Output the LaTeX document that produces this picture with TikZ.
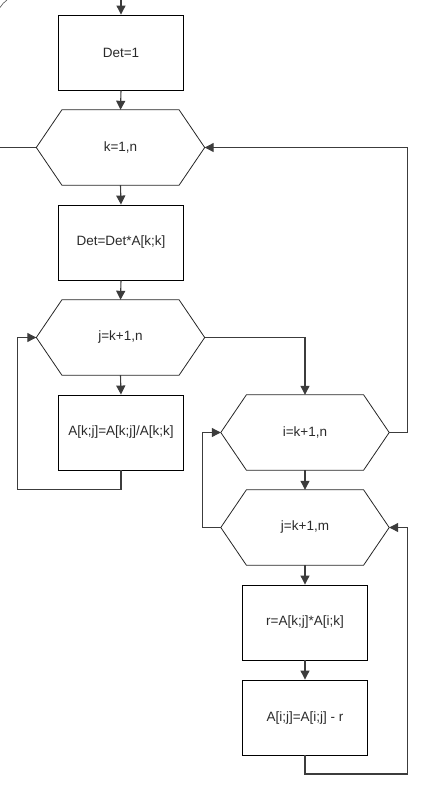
\documentclass[tikz,border=0pt]{standalone}
\usepackage{fontspec}
\setmainfont{Liberation Sans}
\usetikzlibrary{arrows.meta,calc}
\definecolor{linec}{HTML}{3C3C3C}
\definecolor{textc}{HTML}{2A2A2A}
\begin{document}
\begin{tikzpicture}[x=1pt,y=-1pt,
  every node/.style={font=\fontsize{13.5}{16}\selectfont, text=textc},
  procbox/.style={draw=black, line width=0.9pt, minimum width=125pt, minimum height=75pt, inner sep=0pt},
  hexbox/.style={minimum width=168pt, minimum height=75pt, inner sep=0pt},
  hexline/.style={draw=black!85, line width=0.8pt},
  conn/.style={draw=linec, line width=1.1pt},
  arr/.style={conn, -{Triangle[length=9pt,width=9pt]}}]
\useasboundingbox (0,0) rectangle (440,812);

\node[procbox] (det1) at (121,52.5) {Det=1};
\node[hexbox] (k) at (120.5,147.5) {k=1,n};
\node[procbox] (det) at (121,242.5) {Det=Det*A[k;k]};
\node[hexbox] (j) at (120.5,337.5) {j=k+1,n};
\node[procbox] (akj) at (121,432.5) {A[k;j]=A[k;j]/A[k;k]};
\node[hexbox] (i) at (305,432.5) {i=k+1,n};
\node[hexbox] (jm) at (305,527.5) {j=k+1,m};
\node[procbox] (r) at (305,622.5) {r=A[k;j]*A[i;k]};
\node[procbox] (aij) at (305,717.5) {A[i;j]=A[i;j] - r};

\foreach \h in {k,j,i,jm}{
  \draw[hexline] (\h.west) -- ([xshift=25.6pt]\h.north west) -- ([xshift=-25.6pt]\h.north east)
    -- (\h.east) -- ([xshift=-25.6pt]\h.south east) -- ([xshift=25.6pt]\h.south west) -- cycle;
}

\coordinate (top) at (121,0);
\coordinate (leftend) at (0,147.5);

\draw[arr] (top) -- (det1.north);
\draw[arr] (det1.south) -- (k.north);
\draw[conn] (k.west) -- (leftend);
\draw[arr] (k.south) -- (det.north);
\draw[arr] (det.south) -- (j.north);
\draw[arr] (j.south) -- (akj.north);
\draw[arr] (akj.south) -- ++(0,19) -| ([xshift=-18.4pt]j.west) -- (j.west);
\draw[arr] (j.east) -| (i.north);
\draw[arr] (i.east) -- ++(18.7,0) |- (k.east);
\draw[arr] (i.south) -- (jm.north);
\draw[arr] (jm.west) -- ++(-18.4,0) |- (i.west);
\draw[arr] (jm.south) -- (r.north);
\draw[arr] (r.south) -- (aij.north);
\draw[arr] (aij.south) -- ++(0,18.5) -| ([xshift=18.5pt]jm.east) -- (jm.east);

\draw[draw=black!70, line width=0.6pt] (0,7.5) .. controls (2,4.5) and (4,2) .. (7,0);
\end{tikzpicture}
\end{document}
